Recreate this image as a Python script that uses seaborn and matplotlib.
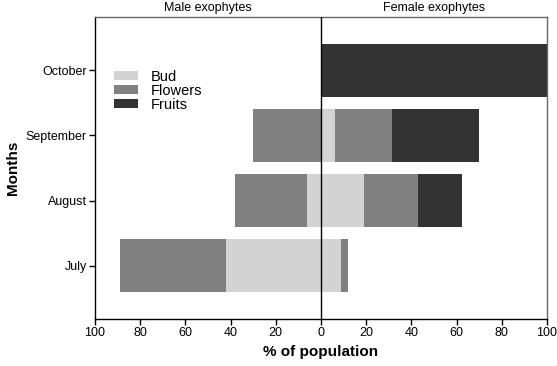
import matplotlib
matplotlib.use("Agg")
import matplotlib.pyplot as plt
import seaborn as sns
import pandas as pd
import numpy as np
from matplotlib.patches import Patch

months = ['July', 'August', 'September', 'October']
male_bud = [42, 6, 0, 0]
male_flowers = [47, 32, 30, 0]
female_bud = [9, 19, 6, 0]
female_flowers = [3, 24, 25.5, 0]
female_fruits = [0, 19.5, 38.5, 100]
xticks = [-100, -80, -60, -40, -20, 0, 20, 40, 60, 80, 100]
xticklabels = ['100', '80', '60', '40', '20', '0', '20', '40', '60', '80', '100']

c_bud = '#d3d3d3'
c_flw = '#808080'
c_fru = '#333333'

sns.set_style('white')
plt.rcParams['font.family'] = ['Liberation Sans', 'DejaVu Sans']
plt.rcParams['text.color'] = 'black'
plt.rcParams['axes.labelcolor'] = 'black'
plt.rcParams['xtick.color'] = 'black'
plt.rcParams['ytick.color'] = 'black'

df = pd.DataFrame({
    'month': months,
    'male_bud': male_bud,
    'male_flowers': male_flowers,
    'female_bud': female_bud,
    'female_flowers': female_flowers,
    'female_fruits': female_fruits,
})
df['m_total'] = -(df['male_bud'] + df['male_flowers'])
df['m_bud'] = -df['male_bud']
df['f_total'] = df['female_bud'] + df['female_flowers'] + df['female_fruits']
df['f_bf'] = df['female_bud'] + df['female_flowers']
df['f_bud'] = df['female_bud']

order = months[::-1]
fig = plt.figure(figsize=(5.57, 3.66), dpi=100)
ax = fig.add_axes([0.1706, 0.1284, 0.8114, 0.8252])

layers = [('m_total', c_flw), ('m_bud', c_bud),
          ('f_total', c_fru), ('f_bf', c_flw), ('f_bud', c_bud)]
for col, c in layers:
    sns.barplot(data=df, x=col, y='month', order=order, orient='h',
                color=c, width=0.81, ax=ax, saturation=1,
                edgecolor=c, linewidth=0)

ax.axvline(0, color='black', lw=1.0, zorder=5)
ax.set_xlim(-100, 100)
ax.set_ylim(3.82, -0.82)
ax.set_xticks(xticks)
ax.set_xticklabels(xticklabels, fontsize=9)
ax.tick_params(axis='y', labelsize=9)
ax.tick_params(axis='both', direction='out', length=4, width=1, color='black',
               labelcolor='black', bottom=True, left=True, pad=2)
ax.set_xlabel('% of population', fontsize=11, fontweight='bold', labelpad=4,
              color='black')
ax.set_ylabel('Months', fontsize=11, fontweight='bold', labelpad=4,
              color='black')

for s in ['left', 'bottom']:
    ax.spines[s].set_color('black')
    ax.spines[s].set_linewidth(1.0)
for s in ['top', 'right']:
    ax.spines[s].set_color('#666666')
    ax.spines[s].set_linewidth(1.0)

ax.text(0.25, 1.01, 'Male exophytes', transform=ax.transAxes, ha='center',
        va='bottom', fontsize=9, color='black')
ax.text(0.75, 1.01, 'Female exophytes', transform=ax.transAxes, ha='center',
        va='bottom', fontsize=9, color='black')

handles = [Patch(facecolor=c_bud, edgecolor='none', label='Bud'),
           Patch(facecolor=c_flw, edgecolor='none', label='Flowers'),
           Patch(facecolor=c_fru, edgecolor='none', label='Fruits')]
leg = ax.legend(handles=handles, loc='upper left', bbox_to_anchor=(0.03, 0.845),
                frameon=False, fontsize=10.5, handlelength=1.65, handleheight=0.5,
                handletextpad=0.85, labelspacing=0.0, borderaxespad=0)
for t in leg.get_texts():
    t.set_color('black')

fig.savefig('out.png', dpi=100)
